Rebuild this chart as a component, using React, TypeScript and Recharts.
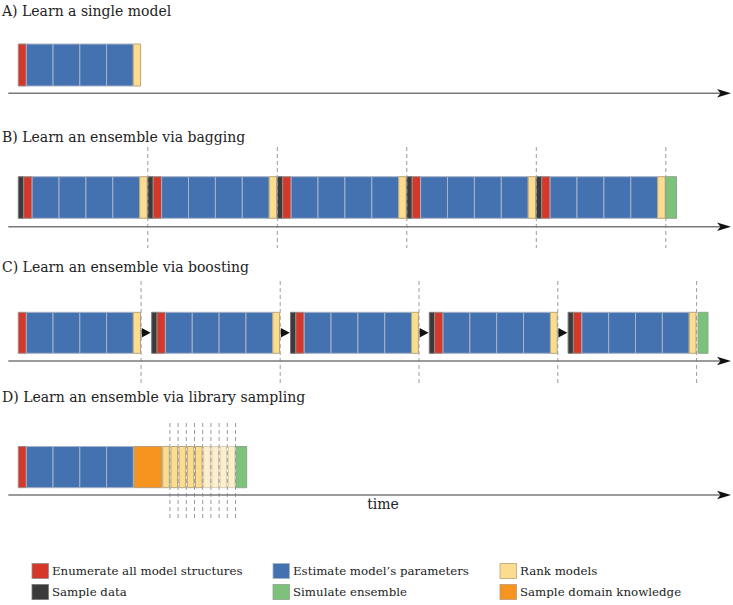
import React from 'react';
import { ComposedChart, XAxis, YAxis, ReferenceArea, ReferenceLine, Scatter } from 'recharts';

type Kind = 'enum' | 'sample' | 'est' | 'rank' | 'rankFaded' | 'sim' | 'domain' | 'gap' | 'arrow';
type Step = [Kind, number];

// ---------- data: step durations along the time axis ----------
const timelineStart = 18.3;

const singleModel: Step[] = [
  ['enum', 8], ['est', 26.75], ['est', 26.75], ['est', 26.75], ['est', 26.75], ['rank', 7.3],
];

const baggingModel: Step[] = [
  ['sample', 5.4], ['enum', 8.4], ['est', 26.9], ['est', 26.9], ['est', 26.9], ['est', 26.9], ['rank', 7.5],
];
const bagging: Step[] = [
  ...baggingModel, ['gap', 0.6],
  ...baggingModel, ['gap', 0.6],
  ...baggingModel, ['gap', 0.6],
  ...baggingModel, ['gap', 0.6],
  ...baggingModel, ['gap', 0.5], ['sim', 10.8],
];

const boostingFirst: Step[] = [
  ['enum', 8], ['est', 26.75], ['est', 26.75], ['est', 26.75], ['est', 26.75], ['rank', 7.2],
];
const boostingModel: Step[] = [
  ['sample', 5.3], ['enum', 8.4], ['est', 26.85], ['est', 26.85], ['est', 26.85], ['est', 26.85], ['rank', 6.8],
];
const boosting: Step[] = [
  ...boostingFirst, ['arrow', 11.2],
  ...boostingModel, ['arrow', 10.9],
  ...boostingModel, ['arrow', 10.9],
  ...boostingModel, ['arrow', 10.9],
  ...boostingModel, ['gap', 2], ['sim', 10],
];

const librarySampling: Step[] = [
  ['enum', 8], ['est', 26.75], ['est', 26.75], ['est', 26.75], ['est', 26.75],
  ['gap', 0.7], ['domain', 27.7], ['gap', 1],
  ['rank', 6.6], ['gap', 1.6], ['rank', 6.6], ['gap', 1.6], ['rank', 6.6], ['gap', 1.6],
  ['rank', 6.6], ['gap', 1.6], ['rank', 6.6], ['gap', 1.6],
  ['rankFaded', 6.6], ['gap', 1.6], ['rankFaded', 6.6], ['gap', 1.6], ['rankFaded', 6.6], ['gap', 1.6],
  ['rankFaded', 6.6], ['gap', 1.1], ['sim', 10.7],
];

const panelTitles = [
  'A) Learn a single model',
  'B) Learn an ensemble via bagging',
  'C) Learn an ensemble via boosting',
  'D) Learn an ensemble via library sampling',
];
const panelSteps: Step[][] = [singleModel, bagging, boosting, librarySampling];

const legendLabels: [Kind, string][] = [
  ['enum', 'Enumerate all model structures'],
  ['est', 'Estimate model\u2019s parameters'],
  ['rank', 'Rank models'],
  ['sample', 'Sample data'],
  ['sim', 'Simulate ensemble'],
  ['domain', 'Sample domain knowledge'],
];
const axisLabel = 'time';

// ---------- layout & style ----------
const W = 733;
const H = 605;
const FONT = "'DejaVu Serif', serif";

const rowLayout = [
  { titleY: 15.5, top: 44, bottom: 86, axisY: 93.3, dash: null as null | [number, number] },
  { titleY: 142, top: 176.7, bottom: 218.3, axisY: 226.7, dash: [147, 248] as [number, number] },
  { titleY: 272, top: 312.3, bottom: 353.3, axisY: 361, dash: [281, 383] as [number, number] },
  { titleY: 402, top: 446.5, bottom: 487.7, axisY: 495, dash: [423, 520] as [number, number] },
];
const axisStartX = 8.3;
const axisTipX = 731;
const dashOffset = 0.6;

const fills: Record<string, string> = {
  enum: '#D3382B',
  sample: '#3B3B3B',
  est: '#4472B0',
  rank: '#FCDD8F',
  rankFaded: '#FDEFCB',
  sim: '#7DC27B',
  domain: '#F5951F',
};
const strokes: Record<string, string> = {
  enum: '#9a8a88',
  sample: '#777',
  est: '#A7B3C6',
  rank: '#B9A57A',
  rankFaded: '#D9CDB0',
  sim: '#8FA58D',
  domain: '#B99C7A',
};

type Seg = { kind: Kind; start: number; end: number; row: number };

function buildSegments(): Seg[] {
  const out: Seg[] = [];
  panelSteps.forEach((steps, row) => {
    let t = timelineStart;
    steps.forEach(([kind, d]) => {
      out.push({ kind, start: t, end: t + d, row });
      t += d;
    });
  });
  return out;
}

const segments = buildSegments();
const blocks = segments.filter((s) => s.kind !== 'gap' && s.kind !== 'arrow');

// dashed markers at the end of each ranking step (panels B, C, D)
const dashes = segments
  .filter((s) => s.row > 0 && (s.kind === 'rank' || s.kind === 'rankFaded'))
  .map((s) => ({ x: s.end + dashOffset, row: s.row }));

const boostArrows = segments
  .filter((s) => s.kind === 'arrow')
  .map((s) => ({ x: s.start + 5.7, y: (rowLayout[s.row].top + rowLayout[s.row].bottom) / 2 }));

const axisHeads = rowLayout.map((r) => ({ x: axisTipX, y: r.axisY }));

const SmallArrow = (props: any) => {
  const { cx, cy } = props;
  if (cx == null || cy == null) return null;
  return <path d={`M${cx - 4.5},${cy - 4.7} L${cx + 4.5},${cy} L${cx - 4.5},${cy + 4.7} Z`} fill="#111" />;
};

const AxisHead = (props: any) => {
  const { cx, cy } = props;
  if (cx == null || cy == null) return null;
  return (
    <path
      d={`M${cx},${cy} L${cx - 14},${cy - 4.2} L${cx - 10.5},${cy} L${cx - 14},${cy + 4.2} Z`}
      fill="#111"
    />
  );
};

const textStyle: React.CSSProperties = { fontFamily: FONT };

export default function App() {
  return (
    <div style={{ position: 'absolute', left: 0, top: 0, width: W, height: H, background: '#fff' }}>
      <ComposedChart width={W} height={H} margin={{ top: 0, right: 0, bottom: 0, left: 0 }}>
        <XAxis type="number" dataKey="x" domain={[0, W]} hide allowDataOverflow />
        <YAxis type="number" dataKey="y" domain={[0, H]} reversed hide allowDataOverflow />
        {dashes.map((d, i) => {
          const r = rowLayout[d.row];
          const [y1, y2] = r.dash as [number, number];
          return (
            <ReferenceLine
              key={`d${i}`}
              segment={[{ x: d.x, y: y1 }, { x: d.x, y: y2 }]}
              stroke="#9c9c9c"
              strokeWidth={1}
              strokeDasharray="4 3"
            />
          );
        })}
        {rowLayout.map((r, i) => (
          <ReferenceLine
            key={`ax${i}`}
            segment={[{ x: axisStartX, y: r.axisY }, { x: axisTipX - 10, y: r.axisY }]}
            stroke="#7a7a7a"
            strokeWidth={1.4}
          />
        ))}
        {blocks.map((b, i) => {
          const r = rowLayout[b.row];
          return (
            <ReferenceArea
              key={`b${i}`}
              x1={b.start}
              x2={b.end}
              y1={r.top}
              y2={r.bottom}
              fill={fills[b.kind]}
              fillOpacity={1}
              stroke={strokes[b.kind]}
              strokeWidth={1}
            />
          );
        })}
        <Scatter data={boostArrows} shape={SmallArrow} isAnimationActive={false} />
        <Scatter data={axisHeads} shape={AxisHead} isAnimationActive={false} />
      </ComposedChart>
      <svg
        width={W}
        height={H}
        style={{ position: 'absolute', left: 0, top: 0, pointerEvents: 'none', fontFamily: FONT }}
      >
        {panelTitles.map((t, i) => (
          <text key={t} x={2} y={rowLayout[i].titleY} fontSize={14} fill="#222" style={textStyle}>
            {t}
          </text>
        ))}
        <text x={383} y={509} fontSize={14} fill="#222" textAnchor="middle" style={textStyle}>
          {axisLabel}
        </text>
        {legendLabels.map(([kind, label], i) => {
          const col = i % 3;
          const row = Math.floor(i / 3);
          const sx = [32, 273, 500][col];
          const tx = [52, 293, 520][col];
          const sy = [563.5, 584.5][row];
          return (
            <g key={label}>
              <rect x={sx} y={sy} width={16.5} height={15} fill={fills[kind]} stroke={strokes[kind]} strokeWidth={0.8} />
              <text x={tx} y={sy + 11.5} fontSize={11.8} fill="#222" style={textStyle}>
                {label}
              </text>
            </g>
          );
        })}
      </svg>
    </div>
  );
}
